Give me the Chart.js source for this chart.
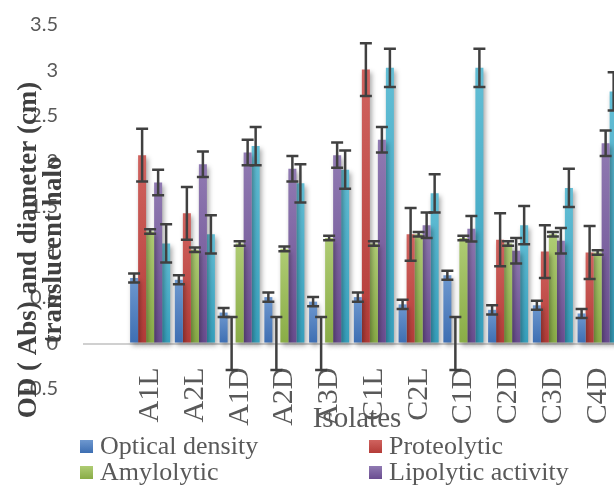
<!DOCTYPE html>
<html>
<head>
<meta charset="utf-8">
<title>Isolates</title>
<script src="https://cdn.jsdelivr.net/npm/chart.js@4.4.1/dist/chart.umd.min.js"></script>
<style>
  html, body { margin: 0; padding: 0; background: #fff; overflow: hidden; }
  #wrap { position: relative; width: 614px; height: 485px; overflow: hidden; }
  #chart { position: absolute; left: 0; top: 0; }
  #legend {
    position: absolute; left: 80px; top: 433px;
    display: grid; grid-template-columns: 289px 260px;
    font: 26px "Liberation Serif", serif; color: #595959;
  }
  .item { display: flex; align-items: center; height: 26px; white-space: nowrap; }
  .box { width: 13px; height: 13px; margin-right: 7px; flex: none; }
</style>
</head>
<body>
<div id="wrap">
  <canvas id="chart" width="640" height="485"></canvas>
  <div id="legend"></div>
</div>
<script>
// categories (isolates)
const isolates = ['A1L', 'A2L', 'A1D', 'A2D', 'A3D', 'C1L', 'C2L', 'C1D', 'C2D', 'C3D', 'C4D']

// series values
const optical_density = [0.72, 0.70, 0.34, 0.51, 0.46, 0.51, 0.43, 0.75, 0.37, 0.42, 0.33]
const proteolytic     = [2.07, 1.43, 0,    0,    0,    3.01, 1.20, 0,    1.14, 1.01, 1.00]
const amylolytic      = [1.23, 1.03, 1.10, 1.04, 1.16, 1.10, 1.20, 1.16, 1.10, 1.20, 1.00]
const lipolytic       = [1.77, 1.97, 2.10, 1.92, 2.07, 2.24, 1.30, 1.26, 1.02, 1.13, 2.20]
const cellulolytic    = [1.10, 1.20, 2.17, 1.76, 1.91, 3.03, 1.65, 3.03, 1.30, 1.71, 2.77]

// error bars (+/-)
const optical_density_err = [0.05, 0.05, 0.05, 0.05, 0.05, 0.05, 0.05, 0.05, 0.05, 0.05, 0.05]
const proteolytic_err     = [0.29, 0.29, 0.29, 0.29, 0.29, 0.29, 0.29, 0.29, 0.29, 0.29, 0.29]
const amylolytic_err      = [0.025, 0.025, 0.025, 0.025, 0.025, 0.025, 0.025, 0.025, 0.025, 0.025, 0.025]
const lipolytic_err       = [0.14, 0.14, 0.14, 0.14, 0.14, 0.14, 0.14, 0.14, 0.14, 0.14, 0.14]
const cellulolytic_err    = [0.21, 0.21, 0.21, 0.21, 0.21, 0.21, 0.21, 0.21, 0.21, 0.21, 0.21]

const series_names = ['Optical density', 'Proteolytic', 'Amylolytic', 'Lipolytic activity', 'Cellulolytic']

// y axis range / step
const y_min = -0.5
const y_max = 3.5
const y_step = 0.5

const y_title = ['OD ( Abs) and diameter (cm)', 'translucent halo']
const x_title = 'Isolates'

// office style colours, light top -> dark bottom
const light_colors = ['#6e98cf', '#d0635f', '#afcc74', '#907ab2', '#63bed5']
const dark_colors  = ['#3d6eb2', '#b43c38', '#89ac46', '#6a4d90', '#36a0bd']

const values = [optical_density, proteolytic, amylolytic, lipolytic, cellulolytic]
const errors = [optical_density_err, proteolytic_err, amylolytic_err, lipolytic_err, cellulolytic_err]

// first slot of the axis is empty in the original
const labels = [''].concat(isolates)

const barFill = i => context => {
  const chart = context.chart
  if (!chart.chartArea || context.type !== 'data' || context.raw == null) return dark_colors[i]
  const y = chart.scales.y
  const top = y.getPixelForValue(context.raw)
  const bottom = y.getPixelForValue(0)
  if (!isFinite(top) || Math.abs(bottom - top) < 1) return dark_colors[i]
  const g = chart.ctx.createLinearGradient(0, top, 0, bottom)
  g.addColorStop(0, light_colors[i])
  g.addColorStop(1, dark_colors[i])
  return g
}

const shadowPlugin = {
  id: 'barShadow',
  beforeDatasetsDraw(chart) {
    const ctx = chart.ctx
    ctx.save()
    ctx.shadowColor = 'rgba(0, 0, 0, 0.35)'
    ctx.shadowBlur = 5
    ctx.shadowOffsetX = 2
    ctx.shadowOffsetY = 3
  },
  afterDatasetsDraw(chart) {
    chart.ctx.restore()
  }
}

const errorBarPlugin = {
  id: 'errorBars',
  afterDatasetsDraw(chart) {
    const ctx = chart.ctx
    const y = chart.scales.y
    ctx.save()
    ctx.strokeStyle = '#404040'
    ctx.lineWidth = 2.5
    chart.data.datasets.forEach((ds, i) => {
      const meta = chart.getDatasetMeta(i)
      meta.data.forEach((bar, j) => {
        const v = ds.data[j]
        if (v == null) return
        const e = errors[i][j - 1]
        const yt = y.getPixelForValue(v + e)
        const yb = y.getPixelForValue(v - e)
        ctx.beginPath()
        ctx.moveTo(bar.x, yt)
        ctx.lineTo(bar.x, yb)
        ctx.moveTo(bar.x - 6, yt)
        ctx.lineTo(bar.x + 6, yt)
        ctx.moveTo(bar.x - 6, yb)
        ctx.lineTo(bar.x + 6, yb)
        ctx.stroke()
      })
    })
    ctx.restore()
  }
}

const titlePlugin = {
  id: 'axisTitles',
  afterDraw(chart) {
    const ctx = chart.ctx
    ctx.save()
    ctx.fillStyle = '#404040'
    ctx.font = 'bold 27px "Liberation Serif"'
    ctx.textAlign = 'center'
    ctx.textBaseline = 'alphabetic'
    const xs = [36, 61]
    y_title.forEach((line, i) => {
      ctx.save()
      ctx.translate(xs[i], 250)
      ctx.rotate(-Math.PI / 2)
      ctx.fillText(line, 0, 0)
      ctx.restore()
    })
    ctx.fillStyle = '#595959'
    ctx.font = '29px "Liberation Serif"'
    ctx.fillText(x_title, 357, 427)
    ctx.restore()
  }
}

const chart = new Chart(document.getElementById('chart'), {
  type: 'bar',
  data: {
    labels: labels,
    datasets: values.map((vals, i) => ({
      label: series_names[i],
      data: [null].concat(vals),
      backgroundColor: barFill(i),
      borderWidth: 0
    }))
  },
  options: {
    responsive: false,
    animation: false,
    layout: { padding: { left: 0, top: 25, right: 20, bottom: 96 } },
    datasets: { bar: { categoryPercentage: 0.895, barPercentage: 1 } },
    plugins: { legend: { display: false }, tooltip: { enabled: false } },
    scales: {
      x: {
        position: { y: 0 },
        afterFit: scale => { scale.paddingLeft = 0; scale.paddingRight = 0 },
        grid: { display: false, drawTicks: false },
        border: { display: false },
        ticks: {
          autoSkip: false,
          minRotation: 90,
          maxRotation: 90,
          padding: 24,
          color: '#595959',
          font: { family: 'Liberation Serif', size: 30 }
        }
      },
      y: {
        min: y_min,
        max: y_max,
        afterFit: scale => { scale.width = 83; scale.paddingTop = 0; scale.paddingBottom = 0 },
        border: { display: false },
        grid: {
          drawTicks: false,
          lineWidth: 2,
          color: c => (c.tick && c.tick.value === 0) ? '#d0d0d0' : 'rgba(0,0,0,0)'
        },
        ticks: {
          stepSize: y_step,
          padding: 25,
          color: '#595959',
          font: { family: 'Lato', size: 20 },
          callback: v => String(v)
        }
      }
    }
  },
  plugins: [shadowPlugin, errorBarPlugin, titlePlugin]
})

// legend in two columns, like the original
const legend = document.getElementById('legend')
chart.data.datasets.forEach((ds, i) => {
  const item = document.createElement('div')
  item.className = 'item'
  const box = document.createElement('span')
  box.className = 'box'
  box.style.background = 'linear-gradient(' + light_colors[i] + ', ' + dark_colors[i] + ')'
  const text = document.createElement('span')
  text.textContent = ds.label
  item.appendChild(box)
  item.appendChild(text)
  legend.appendChild(item)
})
</script>
</body>
</html>
